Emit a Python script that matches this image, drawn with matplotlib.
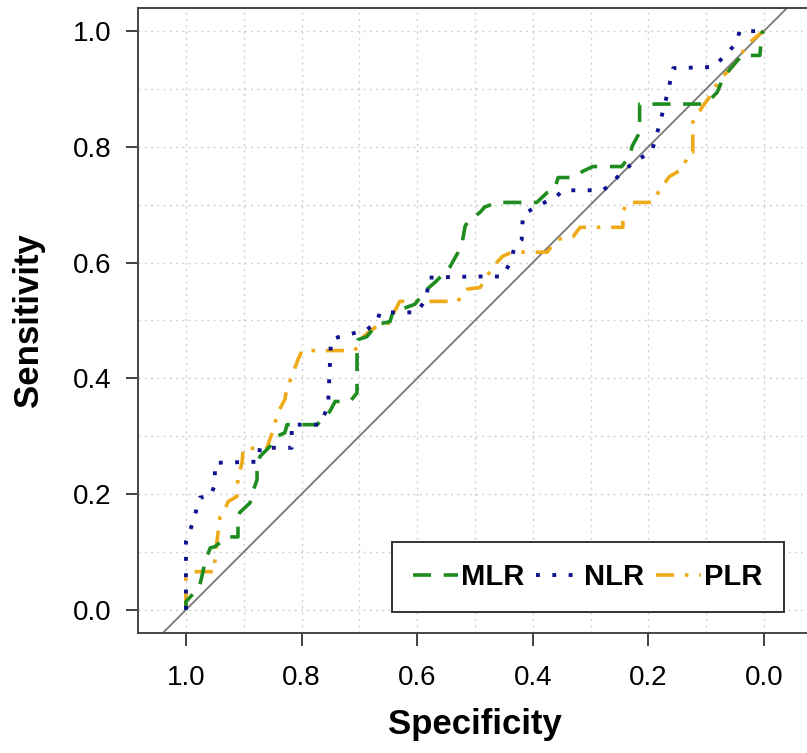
import numpy as np
import matplotlib.pyplot as plt

plt.rcParams['font.family'] = ['Liberation Sans', 'DejaVu Sans']

# ROC curves (specificity, sensitivity)
mlr_spec = [1.0, 1.0, 0.981, 0.976, 0.971, 0.967, 0.958, 0.950, 0.929, 0.910, 0.910, 0.907,
            0.889, 0.886, 0.877, 0.877, 0.872, 0.855, 0.846, 0.829, 0.825, 0.773, 0.751,
            0.742, 0.716, 0.704, 0.704, 0.702, 0.687, 0.670, 0.647, 0.642, 0.604, 0.583,
            0.569, 0.555, 0.543, 0.529, 0.522, 0.517, 0.512, 0.491, 0.483, 0.462, 0.393,
            0.375, 0.362, 0.356, 0.330, 0.313, 0.296, 0.246, 0.232, 0.228, 0.215, 0.215,
            0.106, 0.093, 0.081, 0.073, 0.059, 0.038, 0.007, 0.003, 0.0]
mlr_sens = [0.0, 0.014, 0.035, 0.043, 0.064, 0.083, 0.107, 0.109, 0.126, 0.126, 0.156, 0.168,
            0.185, 0.199, 0.225, 0.247, 0.265, 0.282, 0.298, 0.306, 0.320, 0.320, 0.343,
            0.360, 0.360, 0.375, 0.450, 0.467, 0.472, 0.493, 0.498, 0.514, 0.528, 0.554,
            0.566, 0.580, 0.593, 0.618, 0.635, 0.663, 0.671, 0.687, 0.696, 0.704, 0.704,
            0.721, 0.727, 0.747, 0.747, 0.758, 0.766, 0.766, 0.784, 0.801, 0.825, 0.874,
            0.874, 0.882, 0.894, 0.913, 0.934, 0.958, 0.958, 0.998, 1.0]

nlr_spec = [1.0, 1.0, 0.988, 0.976, 0.958, 0.950, 0.950, 0.875, 0.872, 0.817, 0.817, 0.768,
            0.758, 0.754, 0.749, 0.737, 0.687, 0.670, 0.664, 0.600, 0.583, 0.581, 0.505,
            0.452, 0.439, 0.431, 0.419, 0.417, 0.393, 0.358, 0.348, 0.279, 0.266, 0.246,
            0.223, 0.194, 0.183, 0.175, 0.166, 0.157, 0.088, 0.080, 0.067, 0.047, 0.042, 0.0]
nlr_sens = [0.0, 0.118, 0.151, 0.194, 0.196, 0.216, 0.254, 0.256, 0.280, 0.280, 0.320, 0.320,
            0.343, 0.355, 0.467, 0.471, 0.484, 0.498, 0.514, 0.514, 0.540, 0.574, 0.576,
            0.576, 0.600, 0.628, 0.640, 0.683, 0.697, 0.715, 0.725, 0.725, 0.734, 0.756,
            0.775, 0.792, 0.830, 0.860, 0.896, 0.936, 0.938, 0.946, 0.957, 0.981, 1.0, 1.0]

plr_spec = [1.0, 1.0, 0.990, 0.950, 0.950, 0.946, 0.941, 0.933, 0.927, 0.912, 0.910, 0.903,
            0.901, 0.860, 0.855, 0.849, 0.841, 0.829, 0.825, 0.817, 0.806, 0.799, 0.708,
            0.694, 0.685, 0.670, 0.644, 0.642, 0.630, 0.529, 0.522, 0.514, 0.491, 0.479,
            0.469, 0.452, 0.436, 0.375, 0.358, 0.330, 0.318, 0.244, 0.244, 0.237, 0.192,
            0.180, 0.163, 0.142, 0.128, 0.123, 0.123, 0.106, 0.097, 0.076, 0.054, 0.042,
            0.024, 0.012, 0.0]
plr_sens = [0.0, 0.055, 0.066, 0.066, 0.087, 0.121, 0.161, 0.173, 0.187, 0.196, 0.228, 0.254,
            0.279, 0.279, 0.294, 0.311, 0.341, 0.363, 0.384, 0.403, 0.433, 0.448, 0.448,
            0.471, 0.479, 0.490, 0.497, 0.510, 0.533, 0.533, 0.548, 0.554, 0.557, 0.576,
            0.593, 0.611, 0.618, 0.618, 0.640, 0.645, 0.661, 0.661, 0.687, 0.704, 0.704,
            0.727, 0.749, 0.761, 0.791, 0.791, 0.843, 0.870, 0.882, 0.917, 0.939, 0.957,
            0.981, 0.991, 1.0]

ticks = [1.0, 0.8, 0.6, 0.4, 0.2, 0.0]

fig = plt.figure(figsize=(8.07, 7.53), dpi=100)
ax = fig.add_axes([0.171, 0.1594, 0.835, 0.830])

# light dotted grid every 0.1
for g in np.arange(0, 1.01, 0.1):
    ax.axvline(g, color='#d0d0d0', lw=1.0, ls=(0, (1.5, 3)), zorder=0)
    ax.axhline(g, color='#d0d0d0', lw=1.0, ls=(0, (1.5, 3)), zorder=0)

ax.plot([1.1, -0.1], [-0.1, 1.1], color='#777777', lw=1.3, zorder=1)

ax.plot(mlr_spec, mlr_sens, color='#1e8c1e', lw=2.6, ls=(0, (5, 3.5)), label='MLR', zorder=3)
ax.plot(nlr_spec, nlr_sens, color='#10108f', lw=2.8, ls=(0, (1, 3.2)), label='NLR', zorder=4)
ax.plot(plr_spec, plr_sens, color='#eeaa18', lw=2.6, ls=(0, (5, 3, 1, 3)), label='PLR', zorder=2)

ax.set_xlim(1.083, -0.083)
ax.set_ylim(-0.04, 1.04)
ax.set_xticks(ticks)
ax.set_yticks(ticks)
ax.set_xticklabels(['%.1f' % t for t in ticks])
ax.set_yticklabels(['%.1f' % t for t in ticks])
ax.tick_params(length=9, width=1.3, color='#333333', labelsize=20, pad=10)
ax.tick_params(axis='x', pad=14)

for s in ax.spines.values():
    s.set_color('#444444')
    s.set_linewidth(1.4)

ax.set_xlabel('Specificity', fontsize=25, fontweight='bold', labelpad=12)
ax.set_ylabel('Sensitivity', fontsize=25, fontweight='bold', labelpad=20)

leg = ax.legend(loc='lower right', bbox_to_anchor=(0.958, 0.034), ncol=3, fancybox=False,
                framealpha=1, edgecolor='#333333', handlelength=1.55, handletextpad=0.1,
                columnspacing=0.4, borderpad=0.72, borderaxespad=0,
                prop={'size': 21, 'weight': 'bold'})
leg.get_frame().set_linewidth(1.4)

fig.savefig('out.png', dpi=100)
